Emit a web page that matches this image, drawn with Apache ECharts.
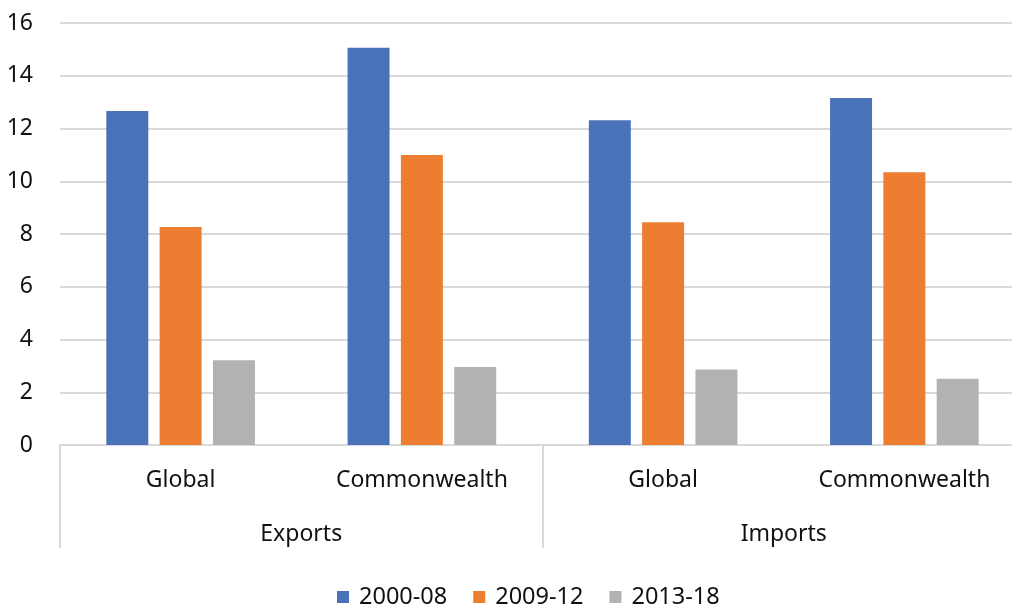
<!DOCTYPE html>
<html>
<head>
<meta charset="utf-8">
<script src="https://cdn.jsdelivr.net/npm/echarts@6/dist/echarts.min.js"></script>
<style>
html,body{margin:0;padding:0;background:#fff;overflow:hidden;width:1012px;height:604px;}
#chart{width:1040px;height:604px;}
</style>
</head>
<body>
<div id="chart"></div>
<script>
const innerCategories = ['Global', 'Commonwealth', 'Global', 'Commonwealth'];
const outerCategories = ['Exports', 'Imports'];
const seriesNames = ['2000-08', '2009-12', '2013-18'];
const values2000_08 = [12.66, 15.06, 12.31, 13.16];
const values2009_12 = [8.27, 11.0, 8.45, 10.34];
const values2013_18 = [3.21, 2.96, 2.86, 2.51];
const colors = ['#4A72B8', '#ED7D31', '#B1B2B3'];

const font = 'Noto Sans';
const textColor = '#111';
const lineColor = '#d9d9d9';

const chart = echarts.init(document.getElementById('chart'), null, {renderer: 'canvas'});
const allValues = [values2000_08, values2009_12, values2013_18];

chart.setOption({
  animation: false,
  color: colors,
  grid: {left: 60, top: 23, width: 965, height: 422, containLabel: false},
  legend: {
    top: 580,
    left: 332,
    icon: 'rect',
    itemWidth: 12,
    itemHeight: 12,
    itemGap: 26,
    textStyle: {fontFamily: font, fontSize: 23.5, color: textColor, padding: [0, 0, 0, 5]},
    data: seriesNames
  },
  xAxis: [
    {
      type: 'category',
      data: innerCategories,
      axisLine: {show: true, lineStyle: {color: lineColor, width: 2}},
      axisTick: {show: false},
      axisLabel: {fontFamily: font, fontSize: 23, color: textColor, margin: 24, interval: 0}
    },
    {
      type: 'category',
      data: outerCategories,
      position: 'bottom',
      axisLine: {show: false},
      axisTick: {show: true, length: 103, lineStyle: {color: lineColor, width: 2}},
      axisLabel: {fontFamily: font, fontSize: 23, color: textColor, margin: 78, interval: 0},
      splitLine: {show: false}
    }
  ],
  yAxis: {
    type: 'value',
    min: 0,
    max: 16,
    interval: 2,
    axisLine: {show: false},
    axisTick: {show: false},
    axisLabel: {fontFamily: font, fontSize: 23, color: textColor, margin: 27},
    splitLine: {lineStyle: {color: lineColor, width: 2}}
  },
  series: seriesNames.map((name, i) => ({
    name: name,
    type: 'bar',
    xAxisIndex: 0,
    data: allValues[i],
    barWidth: '17.4%',
    barGap: '27%',
    itemStyle: {color: colors[i]}
  }))
});
</script>
</body>
</html>
